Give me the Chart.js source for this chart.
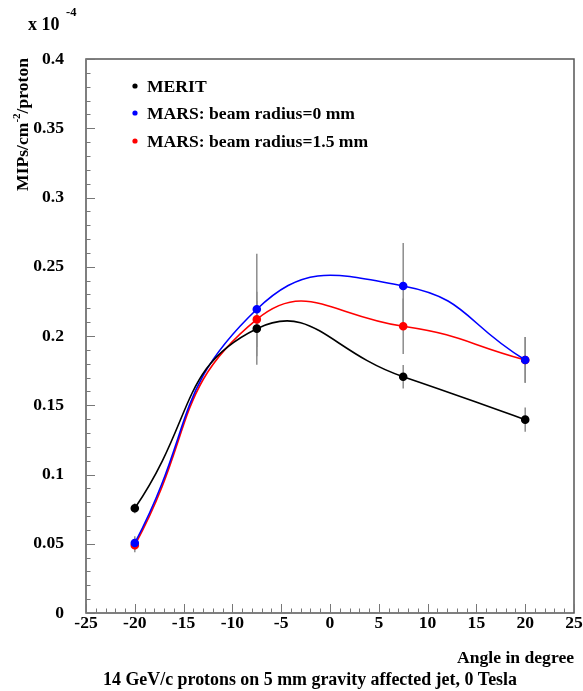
<!DOCTYPE html>
<html>
<head>
<meta charset="utf-8">
<script src="https://cdn.jsdelivr.net/npm/chart.js@4/dist/chart.umd.min.js"></script>
<style>
  html, body { margin: 0; padding: 0; background: #fff; }
  #wrap { width: 583px; height: 691px; }
</style>
</head>
<body>
<div id="wrap"><canvas id="c" width="583" height="691"></canvas></div>
<script>
// Measured angles (degrees) and yields in units of 1e-4 MIPs/cm2/proton
const angles = [-20, -7.5, 7.5, 20];

const merit    = [0.0756, 0.2053, 0.1706, 0.1396];
const meritErr = [0.0036, 0.020, 0.0085, 0.0087];

const mars0    = [0.0505, 0.2193, 0.2361, 0.1827];
const mars0Err = [0.005, 0.040, 0.031, 0.0165];

const mars15    = [0.0489, 0.2120, 0.2070, 0.1827];
const mars15Err = [0.005, 0.020, 0.020, 0.0165];

const seriesLabels = ['MERIT', 'MARS: beam radius=0 mm', 'MARS: beam radius=1.5 mm'];
const seriesColors = ['#000000', '#0000ff', '#ff0000'];

const xTickLabels = ['-25', '-20', '-15', '-10', '-5', '0', '5', '10', '15', '20', '25'];
const yTickLabels = ['0', '0.05', '0.1', '0.15', '0.2', '0.25', '0.3', '0.35', '0.4'];

const SERIF = '"Liberation Serif", "Times New Roman", serif';

function pts(vals) {
  return angles.map((a, i) => ({ x: a, y: vals[i] }));
}

function makeSet(i, vals, errs) {
  return {
    label: seriesLabels[i],
    data: pts(vals),
    errors: errs,
    borderColor: seriesColors[i],
    backgroundColor: seriesColors[i],
    pointBackgroundColor: seriesColors[i],
    pointBorderColor: seriesColors[i],
    borderWidth: 1.6,
    pointRadius: 3.5,
    pointHoverRadius: 3.5,
    tension: 0.5,
    fill: false
  };
}

// vertical error bars drawn under the curves and markers
const errorBars = {
  id: 'errorBars',
  beforeDatasetsDraw(chart) {
    const { ctx, scales: { x, y } } = chart;
    ctx.save();
    ctx.strokeStyle = '#8c8c8c';
    ctx.lineWidth = 1.5;
    chart.data.datasets.forEach(ds => {
      ds.data.forEach((p, i) => {
        const e = ds.errors[i];
        const px = x.getPixelForValue(p.x);
        ctx.beginPath();
        ctx.moveTo(px, y.getPixelForValue(p.y - e));
        ctx.lineTo(px, y.getPixelForValue(p.y + e));
        ctx.stroke();
      });
    });
    ctx.restore();
  }
};

// frame, inward tick marks, legend and captions
const decorations = {
  id: 'decorations',
  afterDraw(chart) {
    const { ctx, chartArea: a, scales: { x, y } } = chart;
    ctx.save();

    // frame
    ctx.strokeStyle = '#555';
    ctx.lineWidth = 1.5;
    ctx.strokeRect(a.left, a.top, a.right - a.left, a.bottom - a.top);

    // ticks on the x axis (pointing up)
    ctx.lineWidth = 1;
    ctx.strokeStyle = '#777';
    for (let v = -25; v <= 25; v += 1) {
      const px = Math.round(x.getPixelForValue(v)) + 0.5;
      const len = (v % 5 === 0) ? 9 : 4.5;
      ctx.beginPath();
      ctx.moveTo(px, a.bottom);
      ctx.lineTo(px, a.bottom - len);
      ctx.stroke();
    }
    // ticks on the y axis (pointing right)
    for (let k = 0; k <= 40; k++) {
      const py = Math.round(y.getPixelForValue(k / 100)) + 0.5;
      const len = (k % 5 === 0) ? 9 : 4.5;
      ctx.beginPath();
      ctx.moveTo(a.left, py);
      ctx.lineTo(a.left + len, py);
      ctx.stroke();
    }

    // legend
    ctx.fillStyle = '#000';
    ctx.font = 'bold 17.6px ' + SERIF;
    ctx.textBaseline = 'middle';
    ctx.textAlign = 'left';
    const legY = [86, 113, 141];
    chart.data.datasets.forEach((ds, i) => {
      ctx.fillStyle = ds.borderColor;
      ctx.beginPath();
      ctx.arc(135, legY[i], 2.6, 0, Math.PI * 2);
      ctx.fill();
      ctx.fillStyle = '#000';
      ctx.fillText(ds.label, 147, legY[i] + 1);
    });

    // exponent marker
    ctx.textBaseline = 'alphabetic';
    ctx.font = 'bold 18px ' + SERIF;
    ctx.fillText('x 10', 28, 30);
    ctx.font = 'bold 12.5px ' + SERIF;
    ctx.fillText('-4', 66, 16);

    // y axis title, rotated
    ctx.save();
    const big = 'bold 17.6px ' + SERIF, small = 'bold 11px ' + SERIF;
    ctx.font = big;
    const w1 = ctx.measureText('MIPs/cm').width;
    const w3 = ctx.measureText('/proton').width;
    ctx.font = small;
    const w2 = ctx.measureText('-2').width;
    const total = w1 + w2 + w3;
    ctx.translate(28, 58 + total);
    ctx.rotate(-Math.PI / 2);
    ctx.font = big;
    ctx.fillText('MIPs/cm', 0, 0);
    ctx.font = small;
    ctx.fillText('-2', w1, -8);
    ctx.font = big;
    ctx.fillText('/proton', w1 + w2, 0);
    ctx.restore();

    // x axis title and caption
    ctx.font = 'bold 17.6px ' + SERIF;
    ctx.textAlign = 'right';
    ctx.fillText('Angle in degree', 574, 663);
    ctx.textAlign = 'center';
    ctx.font = 'bold 17.9px ' + SERIF;
    ctx.fillText('14 GeV/c protons on 5 mm gravity affected jet, 0 Tesla', 310, 685);

    ctx.restore();
  }
};

new Chart(document.getElementById('c'), {
  type: 'line',
  data: {
    datasets: [
      makeSet(0, merit, meritErr),
      makeSet(1, mars0, mars0Err),
      makeSet(2, mars15, mars15Err)
    ]
  },
  options: {
    responsive: false,
    animation: false,
    events: [],
    layout: { padding: { left: 0, top: 59, right: 9, bottom: 0 } },
    plugins: { legend: { display: false }, tooltip: { enabled: false } },
    scales: {
      x: {
        type: 'linear',
        min: -25, max: 25,
        afterFit: s => { s.height = 78; },
        afterBuildTicks: s => { s.ticks = xTickLabels.map(t => ({ value: Number(t) })); },
        ticks: {
          autoSkip: false,
          maxRotation: 0,
          padding: 0,
          color: '#000',
          font: { family: SERIF, size: 17.6, weight: 'bold' },
          callback: (v) => xTickLabels.find(t => Number(t) === v) ?? ''
        },
        grid: { display: false, drawTicks: false },
        border: { display: false }
      },
      y: {
        type: 'linear',
        min: 0, max: 0.4,
        afterFit: s => { s.width = 86; },
        afterBuildTicks: s => { s.ticks = yTickLabels.map(t => ({ value: Number(t) })); },
        ticks: {
          autoSkip: false,
          padding: 22,
          color: '#000',
          font: { family: SERIF, size: 17.6, weight: 'bold' },
          callback: (v) => yTickLabels.find(t => Math.abs(Number(t) - v) < 1e-9) ?? ''
        },
        grid: { display: false, drawTicks: false },
        border: { display: false }
      }
    }
  },
  plugins: [errorBars, decorations]
});
</script>
</body>
</html>
